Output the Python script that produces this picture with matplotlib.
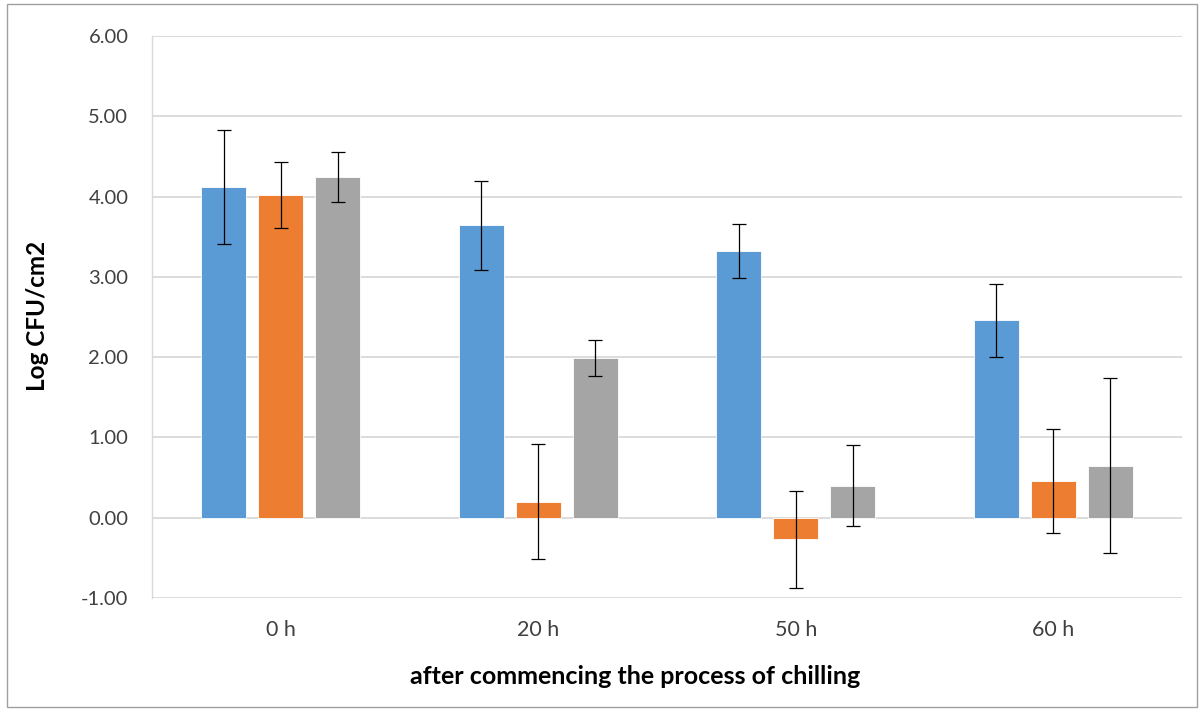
import matplotlib
matplotlib.use("Agg")
import matplotlib.pyplot as plt
import numpy as np
from matplotlib.patches import Rectangle

categories = ["0 h", "20 h", "50 h", "60 h"]
series1 = [4.12, 3.64, 3.32, 2.46]
series1_err = [0.71, 0.555, 0.34, 0.455]
series2 = [4.02, 0.20, -0.27, 0.46]
series2_err = [0.41, 0.72, 0.60, 0.65]
series3 = [4.24, 1.99, 0.40, 0.65]
series3_err = [0.31, 0.225, 0.50, 1.09]
colors = ["#5B9BD5", "#ED7D31", "#A5A5A5"]
yticks = [-1, 0, 1, 2, 3, 4, 5, 6]

plt.rcParams['font.family'] = ['Lato', 'DejaVu Sans']

fig = plt.figure(figsize=(12.03, 7.11), dpi=100)
ax = fig.add_axes([152/1203, 1-598/711, (1182-152)/1203, (598-36)/711])

x = np.arange(len(categories))
width = 0.175
step = 0.221
for i, (vals, errs) in enumerate([(series1, series1_err), (series2, series2_err), (series3, series3_err)]):
    pos = x + (i - 1) * step
    ax.bar(pos, vals, width, color=colors[i], edgecolor="white", linewidth=0.6, zorder=2)
    ax.errorbar(pos, vals, yerr=errs, fmt="none", ecolor="black", elinewidth=0.9,
                capsize=4.7, capthick=0.9, zorder=3)

ax.set_xlim(-0.5, len(categories) - 0.5)
ax.set_ylim(-1, 6)
ax.set_yticks(yticks)
ax.set_yticklabels([f"{v:.2f}" for v in yticks])
ax.yaxis.grid(True, color="#D9D9D9", linewidth=1.3, zorder=0)
ax.set_axisbelow(True)
ax.set_xticks(x)
ax.set_xticklabels(categories)
for s in ["top", "right", "bottom"]:
    ax.spines[s].set_visible(False)
ax.spines["left"].set_color("#D9D9D9")
ax.spines["left"].set_linewidth(1.0)
ax.tick_params(axis="y", length=0, labelsize=14.5, labelcolor="#404040", pad=17)
ax.tick_params(axis="x", length=0, labelsize=15.5, labelcolor="#404040", pad=16)

ax.set_ylabel("Log CFU/cm2", fontsize=17.5, fontweight="bold", color="black")
ax.yaxis.set_label_coords(38/1203, 1-316/711, transform=fig.transFigure)
ax.set_xlabel("after commencing the process of chilling", fontsize=18, fontweight="bold", color="black")
ax.xaxis.set_label_coords(635/1203, 1-677/711, transform=fig.transFigure)
ax.xaxis.label.set_va("center")
ax.yaxis.label.set_va("center")

fig.patches.append(Rectangle((7/1203, 4/711), (1197-7)/1203, (707-4)/711, transform=fig.transFigure,
                             fill=False, edgecolor="#A0A0A0", linewidth=1.0))

fig.savefig("out.png", dpi=100)
